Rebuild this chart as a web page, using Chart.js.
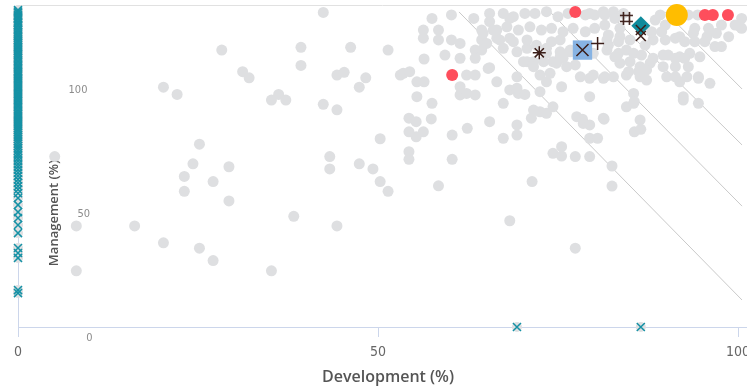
<!DOCTYPE html>
<html>
<head>
<meta charset="utf-8">
<script src="https://cdn.jsdelivr.net/npm/chart.js@4.4.1/dist/chart.umd.min.js"></script>
<style>
  html, body { margin: 0; padding: 0; background: #fff; overflow: hidden; }
</style>
</head>
<body>
<canvas id="chart" width="747" height="388"></canvas>
<script>
// Axis ticks
const xTicks = [0, 50, 100];
const yTicks = [0, 50, 100];

// All other projects: [development %, management %]
const otherProjects = [
  [5.1,68.8],[8.1,40.8],[8.1,22.7],[16.2,40.8],[20.2,96.8],[20.2,34.0],[22.1,93.9],
  [28.3,111.8],[39.3,112.9],[46.2,112.9],[51.4,111.8],[42.4,127.0],[31.2,103.1],[32.1,100.6],
  [39.3,105.6],[44.3,101.7],[45.3,102.8],[48.3,100.6],[53.1,101.7],[36.2,93.9],[35.2,91.6],
  [37.2,91.6],[42.4,89.9],[44.3,87.7],[47.4,96.8],[25.2,73.8],[24.3,65.9],[23.1,60.8],
  [23.1,54.8],[29.3,64.7],[27.1,58.7],[29.3,50.9],[50.3,76.0],[43.3,68.8],[43.3,63.8],
  [47.4,65.9],[49.3,63.8],[50.3,58.7],[51.4,54.8],[38.3,44.7],[44.3,40.8],[25.2,31.8],
  [27.1,26.8],[35.2,22.7],
  [57.5,124.6],[60.2,126.0],[63.3,124.6],[65.5,126.6],[65.5,123.3],[56.3,119.9],[56.3,116.6],
  [58.4,119.9],[58.4,115.9],[60.2,115.9],[61.4,114.5],[64.4,119.9],[64.4,115.9],[66.5,119.9],
  [66.5,116.6],[68.3,124.6],[68.3,116.6],[63.5,111.8],[64.4,111.8],[67.4,112.5],[59.3,109.8],
  [61.4,108.5],[63.5,108.5],[56.4,108.2],[65.5,104.7],[69.3,111.1],[70.7,112.5],[72.0,113.8],
  [73.4,112.5],[75.3,111.1],[76.7,111.1],[70.7,107.1],[71.6,107.1],[74.3,107.1],[75.7,108.5],
  [77.4,105.8],[53.5,102.4],[54.4,103.1],[55.4,99.0],[56.4,99.0],[62.3,101.7],[63.5,101.7],
  [66.5,99.0],[69.3,101.0],[72.5,101.7],[73.4,99.0],[75.5,97.0],[61.4,97.0],[61.4,93.7],
  [62.3,94.3],[63.5,93.7],[55.4,93.0],[57.5,90.3],[68.3,95.7],[69.5,94.3],[70.4,93.9],
  [67.4,90.3],[74.3,88.9],[72.5,86.9],[73.4,86.3],[71.3,84.3],[54.3,84.3],[55.3,82.9],
  [56.3,78.8],[55.3,76.8],[54.3,78.8],[57.4,84.0],[60.3,77.5],[62.4,80.2],[65.5,82.9],
  [67.4,76.2],[69.3,81.6],[69.3,77.5],[54.3,70.8],[54.3,67.7],[60.3,67.7],[74.3,70.1],
  [75.5,72.8],[75.5,69.0],[77.4,68.8],[71.4,58.7],[58.4,57.0],[68.3,42.9],[77.4,31.8],
  [67.4,126.6],[68.8,125.3],[70.4,126.6],[71.8,126.6],[73.4,127.3],[75.0,125.3],[76.4,126.6],
  [79.4,126.6],[81.3,127.3],[82.7,127.3],[84.1,126.6],[64.6,118.6],[66.0,119.9],[67.9,121.2],
  [69.5,119.9],[71.1,121.2],[72.7,119.9],[74.1,120.6],[75.7,119.2],[77.1,120.6],[65.1,114.5],
  [66.9,115.9],[68.8,115.2],[70.7,115.9],[74.1,115.2],[75.3,115.9],[81.8,115.9],[83.6,117.2],
  [73.4,110.5],[75.3,109.1],[76.7,111.8],[78.1,110.5],[79.9,110.5],[81.8,111.8],[83.4,110.5],
  [84.5,111.8],[70.2,107.1],[71.6,105.1],[73.0,107.1],[74.8,106.5],[76.2,105.1],[83.6,106.5],
  [85.0,107.1],[86.4,105.1],[87.8,106.5],[89.6,105.1],[90.3,109.8],[91.9,109.1],[93.3,110.5],
  [94.7,109.1],[91.9,117.2],[93.8,118.6],[95.7,117.2],[97.0,118.6],[98.7,117.2],[100.3,121.2],
  [92.9,101.0],[94.5,100.4],[96.1,98.4],[90.1,101.0],[91.9,99.0],[79.9,101.7],[81.3,100.4],
  [82.7,101.0],[84.5,101.7],[86.4,101.0],[87.3,99.7],[65.3,104.4],[69.3,96.4],[72.5,95.0],
  [73.9,102.4],[71.6,87.6],[77.6,84.9],[78.5,82.2],[79.4,93.0],[81.3,84.3],[84.5,88.9],
  [85.5,94.3],[86.4,83.6],[92.4,93.0],[94.5,90.3],
  [100.5,124.6],[100.5,120.6],[96.8,113.2],[97.7,113.2],[92.6,115.2],[94.0,115.2],[95.4,115.2],
  [89.6,109.8],[91.3,108.5],[92.6,108.5],[91.3,105.1],[93.1,105.1],[91.3,101.0],[94.5,101.0],
  [78.1,101.0],[79.4,100.4],[81.5,101.0],[85.5,90.3],[84.8,103.1],[86.2,103.1],[87.3,103.8],
  [82.9,109.1],[85.5,110.5],[86.6,109.8],[88.2,108.5],[82.0,113.8],[83.4,115.2],[82.0,117.9],
  [88.2,115.9],[89.9,115.9],[91.3,116.6],[88.5,123.9],[89.9,121.9],[78.8,126.0],[80.1,126.0],
  [81.5,126.0],[82.9,124.6],[78.8,119.2],[80.1,120.6],[81.5,121.9],[94.0,120.6],[95.9,120.6],
  [97.7,121.9],[99.6,121.9],[88.0,119.2],[89.4,119.2],[89.2,126.0],[93.1,126.0],[94.4,126.0],
  [83.6,120.6],[85.0,115.9],[87.1,113.8],
  [85.6,91.0],[92.4,91.6],[78.4,83.9],[79.4,81.6],[81.4,83.9],[79.4,76.2],[80.5,76.2],
  [85.6,78.8],[86.5,79.8],[79.4,68.8],[82.5,65.0],[82.5,56.9]
];

// Projects with no development (management % values) and no management (development % values)
const zeroDevMgmt = [
  128, 127.4, 126.9, 126.1, 125.5, 124.8, 124.2, 123.3, 122.8, 122, 121.4, 120.5, 119.9, 119.1,
  118.2, 117.6, 116.9, 116, 115.3, 114.7, 113.8, 113, 112.4, 111.5, 110.7, 110, 109.2, 108.5,
  107.6, 106.9, 106, 105.3, 104.5, 103.6, 102.9, 102.1, 101.4, 100.5, 99.8, 99, 98.2, 97.3,
  96.6, 95.8, 95, 94.1, 93.4, 92.6, 91.7, 91, 90.1, 89.3, 88.6, 87.7, 86.9, 86, 85.2, 84.5,
  83.5, 82.8, 81.9, 81.1, 80.2, 79.4, 78.5, 77.6, 76.8, 75.9, 75, 74.1, 73.1, 72.2, 71.2, 70.1,
  69.2, 68.1, 67, 65.8, 64.7, 63.5, 62.3, 61, 59.6, 58.2, 56.8, 55.5, 54, 52.1, 49.3, 46.4,
  44, 41.2, 37.9, 31.9, 29.9, 27.9, 14.9, 13.7
];
const zeroMgmtDev = [69.3, 86.5];

// Highlighted projects
const flaggedProjects = [[60.3,101.7],[77.4,127.2],[95.4,126.0],[96.5,126.0],[98.6,126.0]];
const leaderProject = [[91.5,126.0]];
const peerDiamond = [[86.5,121.6]];
const peerSquare = [[78.4,111.8]];
const peerPlus = [[80.5,114.5]];
const peerStar = [[72.4,110.7]];
const peerHash = [[84.5,124.6]];
const peerCrosses = [[86.5,119.9],[86.5,117.5]];

// Reference lines: [start, end] in development / management units
const guideLines = [
  [[61.25,127.2],[100.56,10.9]],
  [[73.9,127.2],[100.56,48.8]],
  [[81.9,127.2],[100.56,73.5]],
  [[89.9,127.2],[100.56,96.1]]
];

const GRAY = '#dedfe1';
const TEAL = '#1591a5';
const DARK = '#3b1e19';
const NUM_FONT = '"Liberation Sans Narrow", "DejaVu Sans Condensed", sans-serif';
const TITLE_FONT = '"Open Sans", sans-serif';

const pts = arr => arr.map(([x, y]) => ({ x, y }));
const zeroPoints = zeroDevMgmt.map(v => ({ x: 0, y: v }))
  .concat(zeroMgmtDev.map(v => ({ x: v, y: 0 })));

function hashMark(color) {
  const c = document.createElement('canvas');
  c.width = 15; c.height = 15;
  const g = c.getContext('2d');
  g.strokeStyle = color; g.lineWidth = 1.6;
  g.beginPath();
  [4.5, 10.5].forEach(p => {
    g.moveTo(p, 1); g.lineTo(p, 14);
    g.moveTo(1, p); g.lineTo(14, p);
  });
  g.stroke();
  return c;
}

const markSet = (label, data, style, extra) => Object.assign({
  label, data: pts(data), pointStyle: style, clip: false
}, extra);

const datasets = [];
guideLines.forEach((ln, i) => datasets.push({
  label: 'Guide ' + (i + 1), data: pts(ln), showLine: true,
  borderColor: '#c9c9c9', borderWidth: 1, pointRadius: 0, order: 100, clip: false
}));
datasets.push(markSet('Projects', otherProjects, 'circle',
  { pointRadius: 5.5, backgroundColor: GRAY, borderWidth: 0, order: 90 }));
datasets.push({ label: 'Single focus', data: zeroPoints, pointStyle: 'circle',
  pointRadius: 5, backgroundColor: GRAY, borderWidth: 0, order: 80, clip: false });
datasets.push({ label: 'Single focus marks', data: zeroPoints, pointStyle: 'crossRot',
  pointRadius: 5.7, borderColor: TEAL, borderWidth: 1.5, order: 70, clip: false });
datasets.push(markSet('Flagged', flaggedProjects, 'circle',
  { pointRadius: 6, backgroundColor: '#fe4e5c', borderWidth: 0, order: 60 }));
datasets.push(markSet('Leader', leaderProject, 'circle',
  { pointRadius: 11, backgroundColor: '#ffbd00', borderWidth: 0, order: 50 }));
datasets.push(markSet('Peer square', peerSquare, 'rect',
  { pointRadius: 13.7, backgroundColor: '#87b3e3', borderWidth: 0, order: 40 }));
datasets.push(markSet('Peer diamond', peerDiamond, 'rectRot',
  { pointRadius: 9.5, backgroundColor: '#0f8b9c', borderWidth: 0, order: 30 }));
datasets.push(markSet('Peer square mark', peerSquare, 'crossRot',
  { pointRadius: 8.5, borderColor: DARK, borderWidth: 1.5, order: 10 }));
datasets.push(markSet('Peer plus', peerPlus, 'cross',
  { pointRadius: 6.5, borderColor: DARK, borderWidth: 1.5, order: 10 }));
datasets.push(markSet('Peer star', peerStar, 'star',
  { pointRadius: 6.5, borderColor: DARK, borderWidth: 1.5, order: 10 }));
datasets.push(markSet('Peer crosses', peerCrosses, 'crossRot',
  { pointRadius: 7, borderColor: DARK, borderWidth: 1.5, order: 10 }));
datasets.push(markSet('Peer hash', peerHash, hashMark(DARK),
  { pointRadius: 7, order: 10 }));

// Frame lines, y labels and axis titles
const axisDecor = {
  id: 'axisDecor',
  beforeDatasetsDraw(chart) {
    const { ctx, chartArea: a, scales: { y } } = chart;
    ctx.save();
    ctx.lineWidth = 1;
    ctx.strokeStyle = '#e1e1e1';
    ctx.beginPath();
    ctx.moveTo(a.left, a.top + 0.5); ctx.lineTo(a.right, a.top + 0.5);
    ctx.stroke();
    ctx.strokeStyle = '#ccd6eb';
    ctx.beginPath();
    ctx.moveTo(a.left + 0.5, a.top); ctx.lineTo(a.left + 0.5, a.bottom);
    ctx.stroke();

    ctx.fillStyle = '#8c8c8c';
    ctx.font = '11px ' + NUM_FONT;
    ctx.textAlign = 'center';
    ctx.textBaseline = 'middle';
    yTicks.forEach(v => {
      ctx.fillText(String(v), a.left + 71.5 - v * 0.115, y.getPixelForValue(v) + 11);
    });

    ctx.fillStyle = '#555';
    ctx.font = '600 13px ' + TITLE_FONT;
    ctx.translate(a.left + 36, y.getPixelForValue(46));
    ctx.rotate(-Math.PI / 2);
    ctx.fillText('Management (%)', 0, 0);
    ctx.restore();

    ctx.save();
    ctx.fillStyle = '#555';
    ctx.font = '600 16px ' + TITLE_FONT;
    ctx.textAlign = 'center';
    ctx.textBaseline = 'middle';
    ctx.fillText('Development (%)', a.left + 370, a.bottom + 50);
    ctx.restore();
  }
};

new Chart(document.getElementById('chart'), {
  type: 'scatter',
  data: { datasets },
  plugins: [axisDecor],
  options: {
    responsive: false,
    animation: false,
    events: [],
    layout: { autoPadding: false, padding: { left: 18, top: 5, right: 0, bottom: 0 } },
    plugins: { legend: { display: false }, tooltip: { enabled: false } },
    scales: {
      x: {
        type: 'linear', min: 0, max: 101.25,
        afterBuildTicks: s => { s.ticks = xTicks.map(v => ({ value: v })); },
        afterFit: s => { s.height = 61; s.paddingLeft = 0; s.paddingRight = 0; },
        border: { display: true, color: '#ccd6eb', width: 1 },
        grid: { display: true, drawOnChartArea: false, drawTicks: true, tickLength: 10, color: '#ccd6eb' },
        ticks: { padding: 7, color: '#666', font: { family: NUM_FONT, size: 14 }, maxRotation: 0 }
      },
      y: { type: 'linear', min: 0, max: 130, display: false }
    }
  }
});
</script>
</body>
</html>
